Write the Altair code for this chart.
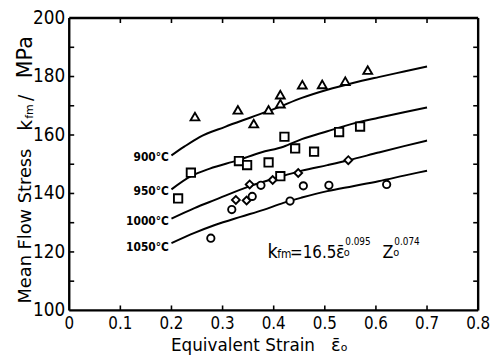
import altair as alt
import pandas as pd

# ---------------- data ----------------
curve_900_x = [0.200, 0.225, 0.255, 0.305, 0.355, 0.405, 0.455, 0.505, 0.555, 0.605, 0.655, 0.700]
curve_900_y = [153.0, 156.0, 159.3, 162.8, 166.0, 169.2, 172.7, 175.5, 177.8, 179.8, 181.7, 183.4]
curve_950_x = [0.200, 0.239, 0.275, 0.329, 0.375, 0.419, 0.455, 0.505, 0.555, 0.605, 0.655, 0.700]
curve_950_y = [141.4, 146.0, 148.5, 151.3, 154.0, 156.0, 158.6, 161.3, 163.9, 165.9, 167.8, 169.4]
curve_1000_x = [0.200, 0.245, 0.285, 0.355, 0.405, 0.455, 0.505, 0.545, 0.605, 0.655, 0.700]
curve_1000_y = [131.4, 135.0, 137.8, 142.6, 145.3, 147.8, 149.7, 151.3, 154.0, 156.2, 158.1]
curve_1050_x = [0.200, 0.245, 0.285, 0.335, 0.380, 0.419, 0.455, 0.505, 0.555, 0.605, 0.655, 0.700]
curve_1050_y = [123.0, 126.5, 129.2, 132.0, 134.4, 136.8, 138.6, 140.8, 142.5, 144.2, 146.1, 147.8]

tri_x = [0.246, 0.330, 0.361, 0.390, 0.413, 0.413, 0.456, 0.495, 0.540, 0.584]
tri_y = [166.3, 168.6, 163.9, 168.6, 173.8, 170.7, 177.2, 177.3, 178.4, 182.2]
sq_x = [0.213, 0.238, 0.332, 0.348, 0.390, 0.413, 0.421, 0.442, 0.479, 0.528, 0.569]
sq_y = [138.3, 147.1, 151.1, 149.7, 150.6, 145.9, 159.4, 155.4, 154.3, 161.0, 162.9]
dia_x = [0.326, 0.347, 0.353, 0.398, 0.448, 0.546]
dia_y = [137.8, 137.6, 143.1, 144.6, 147.0, 151.4]
cir_x = [0.277, 0.318, 0.358, 0.375, 0.432, 0.458, 0.508, 0.621]
cir_y = [124.7, 134.5, 139.0, 142.8, 137.4, 142.6, 142.8, 143.1]

curve_labels = ["900°C", "950°C", "1000°C", "1050°C"]
curve_label_x = [0.195, 0.195, 0.195, 0.195]
curve_label_y = [152.4, 140.9, 130.4, 121.6]

x_ticks = [0, 0.1, 0.2, 0.3, 0.4, 0.5, 0.6, 0.7, 0.8]
x_tick_labels = ["0", "0.1", "0.2", "0.3", "0.4", "0.5", "0.6", "0.7", "0.8"]
y_ticks = [100, 120, 140, 160, 180, 200]
y_tick_labels = ["100", "120", "140", "160", "180", "200"]
x_minor = [0.1, 0.2, 0.3, 0.4, 0.5, 0.6, 0.7]
y_minor = [110, 120, 130, 140, 150, 160, 170, 180, 190]
x_range = [0, 0.8]
y_range = [100, 200]

# formula pieces: text, x, y, size
formula_text = ["k", "fm", "=16.5", "ε̄", "o", "0.095", "Z", "o", "0.074"]
formula_x = [0.388, 0.407, 0.432, 0.522, 0.537, 0.540, 0.613, 0.634, 0.636]
formula_y = [118.0, 118.0, 118.0, 118.0, 118.7, 122.3, 118.0, 118.7, 122.3]
formula_size = [20, 12, 17, 18, 11, 10, 18, 11, 10]

W, H = 414, 296
FONT = "DejaVu Sans"
CFONT = "DejaVu Sans Condensed"

xs = alt.Scale(domain=x_range, nice=False, zero=False)
ys = alt.Scale(domain=y_range, nice=False, zero=False)


def X(f):
    return alt.X(f, scale=xs, axis=None)


def Y(f):
    return alt.Y(f, scale=ys, axis=None)


rows = []
for name, cx, cy in [("900", curve_900_x, curve_900_y), ("950", curve_950_x, curve_950_y),
                     ("1000", curve_1000_x, curve_1000_y), ("1050", curve_1050_x, curve_1050_y)]:
    for a, b in zip(cx, cy):
        rows.append({"T": name, "x": a, "y": b})
curves_df = pd.DataFrame(rows)

prow = []
for shp, px, py in [("triangle-up", tri_x, tri_y), ("square", sq_x, sq_y),
                    ("diamond", dia_x, dia_y), ("circle", cir_x, cir_y)]:
    for a, b in zip(px, py):
        prow.append({"shape": shp, "x": a, "y": b})
pts_df = pd.DataFrame(prow)

shape_scale = alt.Scale(domain=["triangle-up", "square", "diamond", "circle"],
                        range=["triangle-up", "square", "diamond", "circle"])
size_scale = alt.Scale(domain=["triangle-up", "square", "diamond", "circle"],
                       range=[80, 55, 38, 72])

lines = alt.Chart(curves_df).mark_line(color="black", strokeWidth=2, interpolate="monotone").encode(
    x=X("x:Q"), y=Y("y:Q"), detail="T:N")

# plot frame (edges at the ends of the axis ranges)
one = pd.DataFrame({"a": [0]})
frame_l = alt.Chart(one).mark_rule(color="black", strokeWidth=2.4).encode(
    x=alt.value(0), y=alt.value(0), y2=alt.value(H))
frame_r = alt.Chart(one).mark_rule(color="black", strokeWidth=2.4).encode(
    x=alt.value(W), y=alt.value(0), y2=alt.value(H))
frame_t = alt.Chart(one).mark_rule(color="black", strokeWidth=2.4).encode(
    y=alt.value(0), x=alt.value(0), x2=alt.value(W))
frame_b = alt.Chart(one).mark_rule(color="black", strokeWidth=2.4).encode(
    y=alt.value(H), x=alt.value(0), x2=alt.value(W))

# inward ticks
ly = pd.DataFrame({"v": y_minor})
lx = pd.DataFrame({"v": x_minor})
tick_l = alt.Chart(ly).mark_rule(color="black", strokeWidth=1.6).encode(
    y=Y("v:Q"), x=alt.value(0), x2=alt.value(5))
tick_r = alt.Chart(ly).mark_rule(color="black", strokeWidth=1.6).encode(
    y=Y("v:Q"), x=alt.value(W), x2=alt.value(W - 5))
tick_t = alt.Chart(lx).mark_rule(color="black", strokeWidth=1.6).encode(
    x=X("v:Q"), y=alt.value(0), y2=alt.value(5))
tick_b = alt.Chart(lx).mark_rule(color="black", strokeWidth=1.6).encode(
    x=X("v:Q"), y=alt.value(H), y2=alt.value(H - 5))

pts = alt.Chart(pts_df).mark_point(filled=True, fill="white", stroke="black", strokeWidth=1.9,
                                   opacity=1).encode(
    x=X("x:Q"), y=Y("y:Q"),
    shape=alt.Shape("shape:N", scale=shape_scale, legend=None),
    size=alt.Size("shape:N", scale=size_scale, legend=None),
)

# tick labels as text marks placed through the scales
xl = alt.Chart(pd.DataFrame({"x": x_ticks, "t": x_tick_labels})).mark_text(
    font=CFONT, fontSize=17, align="center", baseline="top", color="black").encode(
    x=X("x:Q"), y=alt.value(H + 6), text="t:N")
yl = alt.Chart(pd.DataFrame({"y": y_ticks, "t": y_tick_labels})).mark_text(
    font=CFONT, fontSize=19, align="right", baseline="middle", color="black").encode(
    y=Y("y:Q"), x=alt.value(-4), text="t:N")

lab_df = pd.DataFrame({"t": curve_labels, "x": curve_label_x, "y": curve_label_y})
labels = alt.Chart(lab_df).mark_text(font=CFONT, fontSize=12, fontWeight="bold", align="right",
                                     baseline="middle", color="black").encode(
    x=X("x:Q"), y=Y("y:Q"), text="t:N")

form_df = pd.DataFrame({"t": formula_text, "x": formula_x, "y": formula_y, "fs": formula_size})
formula = alt.Chart(form_df).mark_text(font=CFONT, align="left", baseline="alphabetic",
                                       color="black").encode(
    x=X("x:Q"), y=Y("y:Q"), text="t:N",
    size=alt.Size("fs:Q", scale=None, legend=None))

# axis titles drawn as text pieces (for subscripts), placed in pixels
ytitle_df = pd.DataFrame({"t": ["Mean Flow Stress", "k", "fm", "/", "MPa"],
                          "px": [-44, -44, -40, -44, -44], "py": [289, 114, 102, 84, 61],
                          "s": [18, 19, 11, 19, 21]})
xtitle_df = pd.DataFrame({"t": ["Equivalent Strain", "ε̄", "o"],
                          "px": [103, 265, 275], "py": [337, 337, 337], "s": [17, 18, 11]})
ytitle = alt.Chart(ytitle_df).mark_text(font=FONT, angle=270, align="left", baseline="middle",
                                        color="black").encode(
    x=alt.X("px:Q", scale=None, axis=None), y=alt.Y("py:Q", scale=None, axis=None), text="t:N",
    size=alt.Size("s:Q", scale=None, legend=None))
xtitle = alt.Chart(xtitle_df).mark_text(font=FONT, align="left", baseline="alphabetic",
                                        color="black").encode(
    x=alt.X("px:Q", scale=None, axis=None), y=alt.Y("py:Q", scale=None, axis=None), text="t:N",
    size=alt.Size("s:Q", scale=None, legend=None))

chart = alt.layer(lines, frame_l, frame_r, frame_t, frame_b, tick_l, tick_r, tick_t, tick_b,
                  pts, xl, yl, labels, formula, ytitle, xtitle).properties(
    width=W, height=H,
    autosize=alt.AutoSizeParams(type="none"),
    padding={"left": 62, "top": 8, "right": 12, "bottom": 46},
).configure(background="white")

chart.save("out.html", embed_options={"renderer": "svg", "actions": False})
